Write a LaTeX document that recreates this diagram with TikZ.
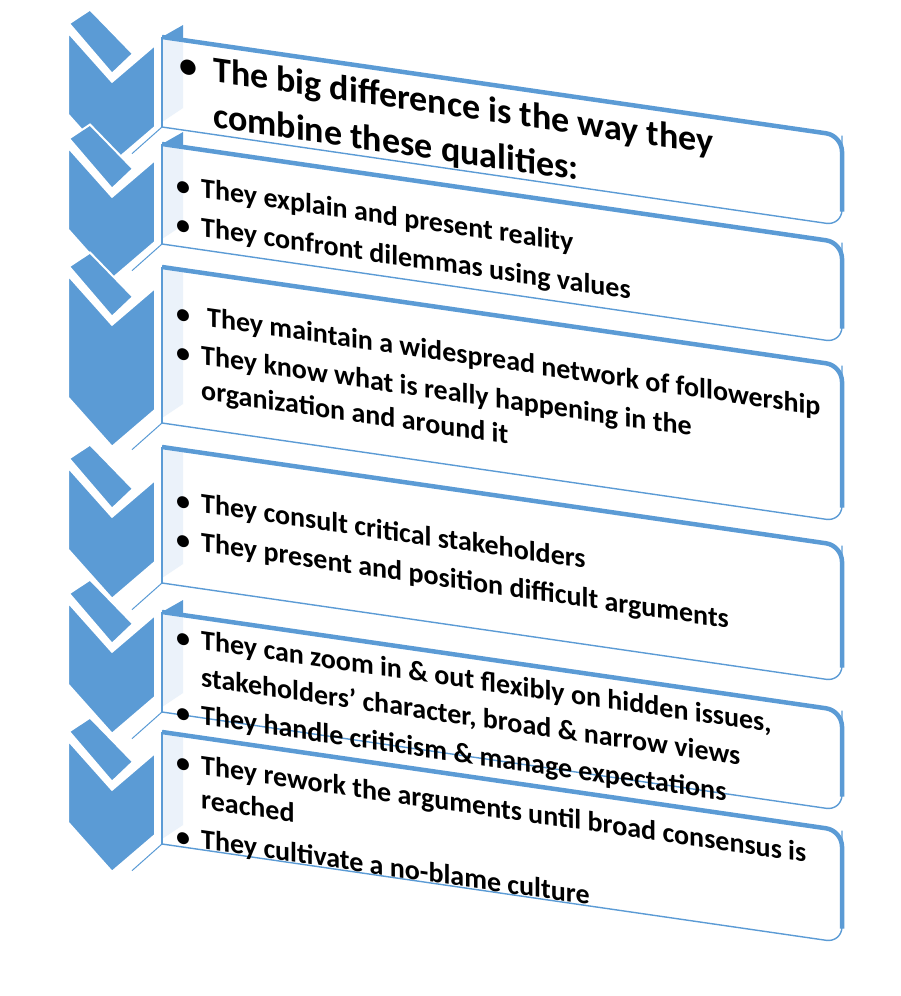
\documentclass[tikz,border=0pt]{standalone}
\usepackage{fontspec}
\setmainfont{Carlito}
\usepackage{xcolor}
\usepackage{tikz}
\definecolor{chevblue}{HTML}{5B9BD5}
\definecolor{sidepanel}{HTML}{EBF2FA}

\begin{document}
\begin{tikzpicture}[x=1pt,y=1pt,
  chevron/.style={fill=chevblue,draw=white,line width=2pt},
  boxfill/.style={fill=white,rounded corners=16pt},
  boxedge/.style={draw=chevblue,line width=1.4pt},
  boxrim/.style={draw=chevblue,line width=4.5pt,rounded corners=16pt},
  bullettext/.style={anchor=base west,inner sep=0pt,transform shape,font=\fontsize{28}{33}\selectfont\bfseries},
  bigtext/.style={bullettext,font=\fontsize{36}{46}\selectfont\bfseries}]
\useasboundingbox (0,0) rectangle (900,-996);
\begin{scope}[shift={(162,0)},yslant=-0.145]
% box top/height, chevron top/side height
\foreach \t/\h/\c/\ch in {37/90/46/82,144/100/161/82,267/156/289/122,447/136/481/82,612/100/616/82,732/112/754/82}{
  \path[chevron] (-94,-\c) -- (-50,-\c-43) -- (-7,-\c) -- (-7,-\c-\ch) -- (-50,-\c-\ch-43) -- (-94,-\c-\ch) -- cycle;
  \path[chevron] (-93,-\c+9) -- (-72,-\c+26) -- (-29,-\c-12) -- (-50,-\c-35) -- cycle;
  \path[boxfill] (0,-\t) -- (680,-\t) -- (680,-\t-\h) -- (0,-\t-\h) -- cycle;
  \fill[sidepanel] (0,-\t-2) -- (21,-\t-2) -- (21,-\t-\h+22) -- (0,-\t-\h+5) -- cycle;
  \draw[boxedge] (0,-\t) -- (0,-\t-\h);
  \draw[boxedge,rounded corners=16pt] (0,-\t-\h) -- (680,-\t-\h) -- (680,-\t);
  \draw[boxrim] (0,-\t) -- (680,-\t) -- (680,-\t-\h+14);
  \draw[boxedge,line width=1pt] (0,-\t-\h) -- (-30,-\t-\h-31);
}
% dark corner tabs
\fill[chevblue] (0,-37) -- (21,-22) -- (21,-37) -- cycle;
\fill[chevblue] (0,-144) -- (21,-129) -- (21,-144) -- cycle;
\fill[chevblue] (0,-612) -- (21,-597) -- (21,-612) -- cycle;
% texts
\node[bigtext] (quality) at (17,-74) {\begin{tabular}[t]{@{}p{34pt}@{}l@{}}
  \textbullet & The big difference is the way they\\
  & combine these qualities:\end{tabular}};
\node[bullettext] (reality) at (14,-192) {\begin{tabular}[t]{@{}p{25pt}@{}l@{}}
  \textbullet & They explain and present reality\\[6pt]
  \textbullet & They confront dilemmas using values\end{tabular}};
\node[bullettext] (network) at (14,-320) {\begin{tabular}[t]{@{}p{25pt}@{}l@{}}
  \textbullet & \hspace{6pt}They maintain a widespread network of followership\\[6pt]
  \textbullet & They know what is really happening in the\\[2pt]
  & organization and around it\end{tabular}};
\node[bullettext] (stake) at (14,-507) {\begin{tabular}[t]{@{}p{25pt}@{}l@{}}
  \textbullet & They consult critical stakeholders\\[6pt]
  \textbullet & They present and position difficult arguments\end{tabular}};
\node[bullettext] (zoom) at (14,-644) {\begin{tabular}[t]{@{}p{25pt}@{}l@{}}
  \textbullet & They can zoom in \& out flexibly on hidden issues,\\[4pt]
  & stakeholders’ character, broad \& narrow views\\[5pt]
  \textbullet & They handle criticism \& manage expectations\end{tabular}};
\node[bullettext] (consensus) at (14,-769) {\begin{tabular}[t]{@{}p{25pt}@{}l@{}}
  \textbullet & They rework the arguments until broad consensus is\\[1pt]
  & reached\\[7pt]
  \textbullet & They cultivate a no-blame culture\end{tabular}};
\end{scope}
\end{tikzpicture}
\end{document}
